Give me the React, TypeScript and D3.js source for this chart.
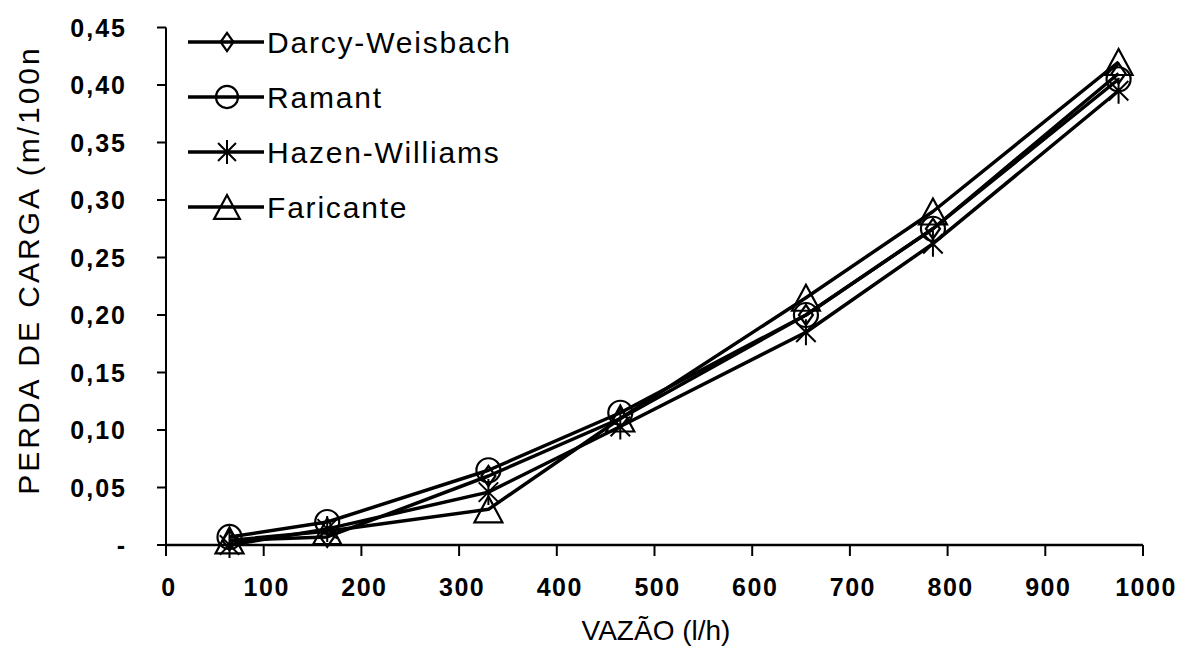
import React, { useEffect } from 'react';
import * as d3 from 'd3';

// flow values (l/h)
const vazao = [65, 165, 330, 465, 655, 785, 975];

const darcy = [0.004, 0.007, 0.060, 0.110, 0.200, 0.275, 0.410];
const ramant = [0.007, 0.020, 0.065, 0.115, 0.200, 0.275, 0.405];
const hazen = [0.000, 0.014, 0.046, 0.103, 0.185, 0.262, 0.395];
const faricante = [0.004, 0.012, 0.031, 0.110, 0.215, 0.290, 0.420];

const seriesNames = ['Darcy-Weisbach', 'Ramant', 'Hazen-Williams', 'Faricante'];
const markerKinds = ['diamond', 'circle', 'star', 'triangle'];

const xTicks = [0, 100, 200, 300, 400, 500, 600, 700, 800, 900, 1000];
const yTicks = [0, 0.05, 0.1, 0.15, 0.2, 0.25, 0.3, 0.35, 0.4, 0.45];

const W = 1188;
const H = 659;
const FONT = 'Arial, "Liberation Sans", Helvetica, sans-serif';

function Marker({ kind, x, y, s = 1 }: { kind: string; x: number; y: number; s?: number }) {
  const common = { fill: 'none', stroke: '#000', strokeWidth: 2.2 };
  if (kind === 'diamond') {
    const w = 7 * s, h = 10 * s;
    return <path d={`M${x},${y - h}L${x + w},${y}L${x},${y + h}L${x - w},${y}Z`} {...common} />;
  }
  if (kind === 'circle') {
    return <circle cx={x} cy={y} r={12 * s} {...common} />;
  }
  if (kind === 'triangle') {
    const w = 14 * s, h = 13 * s;
    return <path d={`M${x},${y - h}L${x + w},${y + h}L${x - w},${y + h}Z`} {...common} />;
  }
  // star / asterisk
  const r = 13 * s;
  const d = r * 0.75;
  return (
    <path
      d={`M${x},${y - r}L${x},${y + r}M${x - d},${y - d}L${x + d},${y + d}M${x - d},${y + d}L${x + d},${y - d}`}
      fill="none"
      stroke="#000"
      strokeWidth={2}
    />
  );
}

export default function App() {
  useEffect(() => {
    document.body.style.margin = '0';
    document.body.style.background = '#fff';
  }, []);

  const x = d3.scaleLinear().domain([0, 1000]).range([166, 1143]);
  const y = d3.scaleLinear().domain([0, 0.45]).range([545, 27.5]);

  const allSeries = [darcy, ramant, hazen, faricante];
  const line = d3
    .line<number>()
    .x((_, i) => x(vazao[i]))
    .y((d) => y(d));

  const fmt = (v: number) => (v === 0 ? '-' : v.toFixed(2).replace('.', ','));

  return (
    <svg width={W} height={H} style={{ display: 'block', background: '#fff' }} fontFamily={FONT}>
      {/* axes */}
      <line x1={x(0)} x2={x(0)} y1={y(0.45)} y2={y(0)} stroke="#000" strokeWidth={2} />
      <line x1={x(0)} x2={x(1000)} y1={y(0)} y2={y(0)} stroke="#000" strokeWidth={2.5} />
      {yTicks.map((t) => (
        <g key={'y' + t}>
          <line x1={x(0) - 9} x2={x(0)} y1={y(t)} y2={y(t)} stroke="#000" strokeWidth={2} />
          <text
            x={127}
            y={y(t)}
            dy="0.36em"
            textAnchor="end"
            fontSize={25}
            fontWeight="bold"
            letterSpacing={2}
          >
            {fmt(t)}
          </text>
        </g>
      ))}
      {xTicks.map((t) => (
        <g key={'x' + t}>
          <line x1={x(t)} x2={x(t)} y1={y(0)} y2={y(0) + 11} stroke="#000" strokeWidth={2} />
          <text
            x={x(t) + 3}
            y={596}
            textAnchor="middle"
            fontSize={25}
            fontWeight="bold"
            letterSpacing={1.5}
          >
            {t}
          </text>
        </g>
      ))}

      {/* axis titles */}
      <text x={656} y={640} textAnchor="middle" fontSize={28}>
        VAZÃO (l/h)
      </text>
      <text
        transform={`translate(39,270) rotate(-90)`}
        textAnchor="middle"
        fontSize={30}
        letterSpacing={3}
      >
        PERDA DE CARGA (m/100n
      </text>

      {/* series */}
      {allSeries.map((s, k) => (
        <g key={seriesNames[k]}>
          <path d={line(s) || ''} fill="none" stroke="#000" strokeWidth={3.5} strokeLinejoin="round" />
          {s.map((v, i) => (
            <Marker key={i} kind={markerKinds[k]} x={x(vazao[i])} y={y(v)} />
          ))}
        </g>
      ))}

      {/* legend */}
      {seriesNames.map((name, k) => {
        const ly = 42 + k * 55;
        return (
          <g key={'lg' + name}>
            <line x1={188} x2={264} y1={ly} y2={ly} stroke="#000" strokeWidth={3.5} />
            <Marker kind={markerKinds[k]} x={227} y={ly} s={0.92} />
            <text x={267} y={ly} dy="0.36em" fontSize={30} letterSpacing={1.8}>
              {name}
            </text>
          </g>
        );
      })}
    </svg>
  );
}
